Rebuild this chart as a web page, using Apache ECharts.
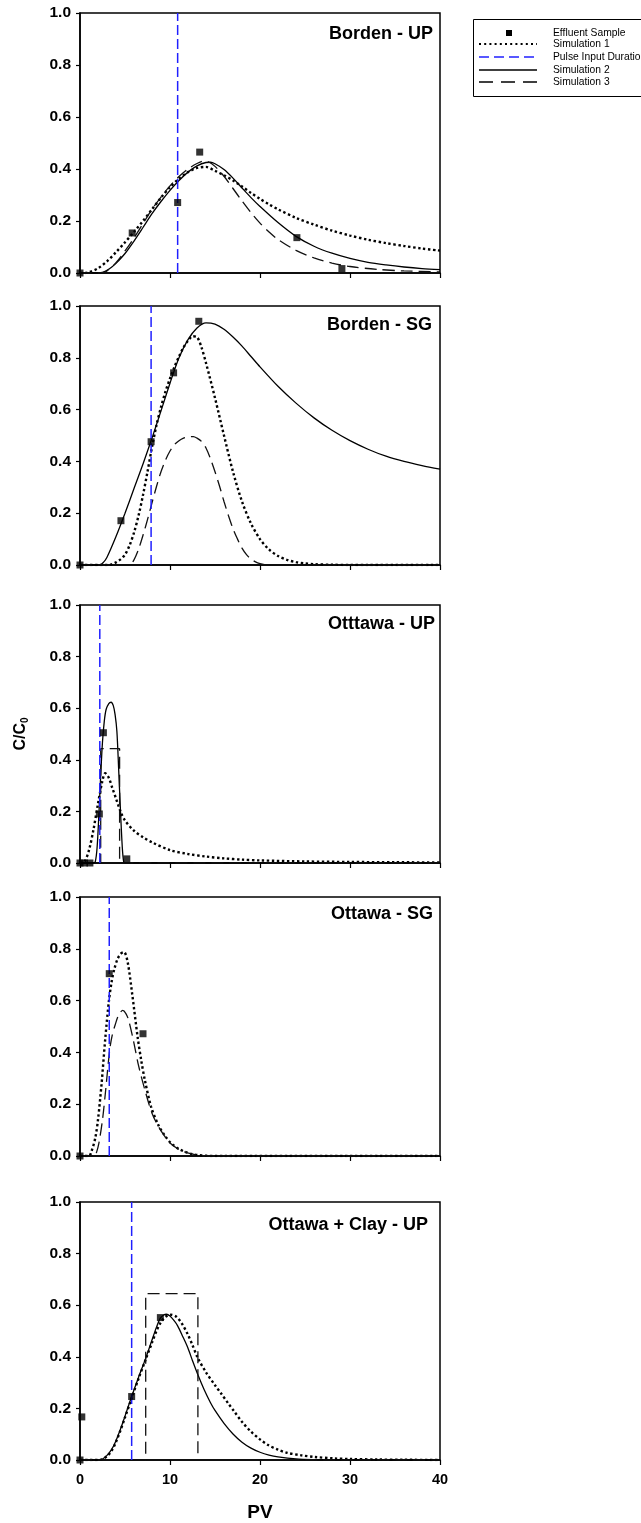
<!DOCTYPE html>
<html>
<head>
<meta charset="utf-8">
<script src="https://cdn.jsdelivr.net/npm/echarts@6/dist/echarts.min.js"></script>
<style>
  html, body { margin: 0; padding: 0; background: #fff; }
  #chart { width: 641px; height: 1523px; }
</style>
</head>
<body>
<div id="chart"></div>
<script>
// ---- Data: C/C0 versus pore volumes (PV) ----
const panelTitles = ['Borden - UP', 'Borden - SG', 'Otttawa - UP', 'Ottawa - SG', 'Ottawa + Clay - UP'];
const pulseDuration = [10.85, 7.9, 2.2, 3.25, 5.74];

// Borden - UP
const bordenUpSamples = [[0, 0], [5.8, 0.154], [10.85, 0.271], [13.3, 0.465], [24.1, 0.136], [29.1, 0.017]];
const bordenUpSim1 = [[0, 0], [0.5, 0], [1, 0.003], [2, 0.018], [3, 0.045], [4, 0.08], [5, 0.118], [6, 0.158], [7, 0.2], [8, 0.245], [9, 0.29], [10, 0.33], [11, 0.363], [12, 0.388], [13, 0.404], [14, 0.408], [15, 0.393], [16, 0.376], [17, 0.356], [18, 0.333], [19, 0.308], [20, 0.285], [21, 0.264], [22, 0.245], [24, 0.212], [26, 0.186], [28, 0.163], [30, 0.144], [32, 0.128], [34, 0.115], [36, 0.104], [38, 0.094], [40, 0.086]];
const bordenUpSim2 = [[0, 0], [1, 0], [2, 0], [2.5, 0.002], [3, 0.01], [3.5, 0.022], [4, 0.037], [5, 0.075], [6, 0.123], [7, 0.175], [8, 0.228], [9, 0.275], [10, 0.318], [11, 0.356], [12, 0.388], [13, 0.412], [14, 0.425], [14.5, 0.426], [15, 0.42], [16, 0.398], [17, 0.365], [18, 0.327], [19, 0.29], [20, 0.256], [22, 0.194], [24, 0.141], [26, 0.103], [28, 0.076], [30, 0.056], [32, 0.041], [34, 0.031], [36, 0.023], [38, 0.017], [40, 0.013]];
const bordenUpSim3 = [[0, 0], [1, 0], [2, 0], [2.5, 0.001], [3, 0.008], [4, 0.04], [5, 0.085], [6, 0.135], [7, 0.19], [8, 0.245], [9, 0.292], [10, 0.335], [11, 0.371], [12, 0.4], [13, 0.421], [13.7, 0.43], [14.3, 0.427], [15, 0.41], [16, 0.372], [17, 0.325], [18, 0.277], [19, 0.232], [20, 0.192], [21, 0.158], [22, 0.129], [24, 0.087], [26, 0.058], [28, 0.038], [30, 0.025], [33, 0.014], [36, 0.008], [40, 0.004]];

// Borden - SG
const bordenSgSamples = [[0, 0], [4.55, 0.171], [7.9, 0.476], [10.4, 0.742], [13.2, 0.941]];
const bordenSgSim1 = [[0, 0], [2, 0], [3, 0], [3.5, 0.002], [4, 0.01], [4.5, 0.022], [5, 0.04], [5.5, 0.075], [6, 0.125], [6.5, 0.19], [7, 0.27], [7.5, 0.36], [8, 0.455], [8.5, 0.54], [9, 0.61], [9.5, 0.67], [10, 0.72], [10.5, 0.765], [11, 0.805], [11.5, 0.84], [12, 0.866], [12.5, 0.883], [13, 0.88], [13.5, 0.84], [14, 0.78], [15, 0.645], [16, 0.5], [17, 0.36], [18, 0.245], [19, 0.16], [20, 0.1], [21, 0.06], [22, 0.035], [23, 0.02], [24, 0.011], [25, 0.006], [26, 0.003], [28, 0.001], [30, 0], [32, 0], [40, 0]];
const bordenSgSim2 = [[0, 0], [1, 0], [2.2, 0], [2.6, 0.01], [3, 0.03], [4, 0.11], [5, 0.2], [6, 0.295], [7, 0.39], [8, 0.49], [9, 0.595], [10, 0.702], [11, 0.8], [12, 0.87], [13, 0.915], [14, 0.935], [15, 0.93], [16, 0.91], [17, 0.88], [18, 0.845], [19, 0.805], [20, 0.765], [22, 0.69], [24, 0.625], [26, 0.568], [28, 0.52], [30, 0.48], [32, 0.447], [34, 0.42], [36, 0.4], [38, 0.384], [40, 0.37]];
const bordenSgSim3 = [[0, 0], [4.5, 0], [5.5, 0], [6, 0.02], [6.5, 0.06], [7, 0.115], [7.5, 0.175], [8, 0.24], [8.5, 0.303], [9, 0.36], [9.5, 0.405], [10, 0.44], [10.5, 0.465], [11, 0.48], [11.5, 0.49], [12, 0.495], [12.6, 0.496], [13, 0.49], [13.5, 0.477], [14, 0.452], [14.5, 0.41], [15, 0.36], [15.5, 0.305], [16, 0.245], [16.5, 0.19], [17, 0.14], [17.5, 0.1], [18, 0.065], [18.5, 0.04], [19, 0.023], [19.5, 0.012], [20, 0.005], [20.5, 0.001], [21, 0], [22, 0], [40, 0]];

// Ottawa - UP
const ottawaUpSamples = [[0, 0], [0.5, 0], [1.1, 0], [2.15, 0.19], [2.6, 0.505], [5.2, 0.016]];
const ottawaUpSim1 = [[0, 0], [0.5, 0.005], [1, 0.05], [1.5, 0.13], [2, 0.23], [2.5, 0.32], [2.8, 0.348], [3.2, 0.33], [3.6, 0.29], [4, 0.25], [4.5, 0.2], [5, 0.165], [6, 0.125], [7, 0.1], [8, 0.08], [10, 0.05], [12, 0.035], [14, 0.025], [16, 0.018], [18, 0.013], [20, 0.01], [25, 0.006], [30, 0.004], [35, 0.003], [40, 0.002]];
const ottawaUpSim2 = [[0, 0], [1.5, 0], [1.7, 0.005], [1.9, 0.06], [2.1, 0.19], [2.3, 0.34], [2.5, 0.47], [2.7, 0.55], [2.9, 0.595], [3.2, 0.618], [3.45, 0.623], [3.7, 0.61], [3.9, 0.575], [4.1, 0.51], [4.3, 0.36], [4.5, 0.2], [4.7, 0.06], [4.85, 0.005], [5, 0], [6, 0], [40, 0]];
const ottawaUpSim3 = [[0, 0], [2.3, 0], [2.3, 0.443], [4.4, 0.443], [4.4, 0], [40, 0]];

// Ottawa - SG
const ottawaSgSamples = [[0, 0], [3.25, 0.704], [7.0, 0.472]];
const ottawaSgSim1 = [[0, 0], [0.5, 0], [1, 0], [1.3, 0.02], [1.7, 0.07], [2, 0.14], [2.4, 0.28], [2.8, 0.45], [3.2, 0.595], [3.5, 0.67], [3.8, 0.72], [4.2, 0.763], [4.6, 0.783], [4.9, 0.787], [5.3, 0.748], [5.8, 0.625], [6.4, 0.46], [6.8, 0.37], [7.2, 0.294], [7.9, 0.19], [8.7, 0.12], [9.4, 0.08], [10.1, 0.05], [11, 0.027], [11.6, 0.017], [12.4, 0.008], [13.1, 0.004], [14, 0.001], [15, 0], [16, 0], [40, 0]];
const ottawaSgSim3 = [[0, 0], [1, 0], [1.6, 0], [1.8, 0.01], [2.1, 0.05], [2.5, 0.14], [2.84, 0.25], [3.3, 0.41], [3.6, 0.47], [3.94, 0.51], [4.3, 0.545], [4.75, 0.562], [5.1, 0.55], [5.4, 0.525], [5.97, 0.44], [6.5, 0.35], [7.25, 0.25], [8, 0.165], [8.7, 0.115], [9.4, 0.077], [10.1, 0.047], [11, 0.025], [11.6, 0.016], [12.4, 0.008], [13.1, 0.003], [14, 0.001], [15, 0], [16, 0], [40, 0]];

// Ottawa + Clay - UP
const clayUpSamples = [[0, 0], [0.2, 0.167], [5.74, 0.246], [8.93, 0.552]];
const clayUpSim1 = [[0, 0], [1, 0], [2, 0], [2.5, 0.003], [3, 0.015], [3.5, 0.035], [4, 0.07], [4.5, 0.115], [5, 0.165], [5.74, 0.24], [6.5, 0.315], [7.3, 0.39], [8, 0.455], [8.5, 0.5], [9, 0.535], [9.5, 0.555], [10.1, 0.563], [10.7, 0.555], [11.3, 0.53], [12, 0.485], [12.5, 0.445], [13.1, 0.395], [14, 0.34], [15, 0.29], [15.7, 0.257], [16.5, 0.218], [17.1, 0.19], [18, 0.148], [19, 0.11], [20, 0.08], [20.9, 0.058], [22, 0.04], [23, 0.028], [24.6, 0.018], [26, 0.012], [28.3, 0.006], [30, 0.004], [33, 0.002], [36, 0.001], [40, 0]];
const clayUpSim2 = [[0, 0], [1, 0], [2, 0], [2.5, 0.004], [3, 0.018], [3.5, 0.04], [4, 0.075], [4.5, 0.12], [5, 0.17], [5.74, 0.246], [6.5, 0.32], [7.3, 0.394], [8, 0.465], [8.5, 0.515], [8.93, 0.55], [9.3, 0.562], [9.6, 0.565], [10, 0.558], [10.5, 0.538], [10.85, 0.52], [11.4, 0.48], [11.97, 0.436], [12.5, 0.385], [13.1, 0.33], [13.8, 0.272], [14.5, 0.222], [15, 0.192], [16, 0.142], [17, 0.101], [18, 0.069], [19, 0.046], [20, 0.03], [21, 0.019], [22, 0.012], [24, 0.004], [26, 0.001], [28, 0], [30, 0], [40, 0]];
const clayUpSim3 = [[0, 0], [7.3, 0], [7.3, 0.645], [13.1, 0.645], [13.1, 0], [40, 0]];

const panels = [
  { samples: bordenUpSamples, sim1: bordenUpSim1, sim2: bordenUpSim2, sim3: bordenUpSim3 },
  { samples: bordenSgSamples, sim1: bordenSgSim1, sim2: bordenSgSim2, sim3: bordenSgSim3 },
  { samples: ottawaUpSamples, sim1: ottawaUpSim1, sim2: ottawaUpSim2, sim3: ottawaUpSim3 },
  { samples: ottawaSgSamples, sim1: ottawaSgSim1, sim2: null, sim3: ottawaSgSim3 },
  { samples: clayUpSamples, sim1: clayUpSim1, sim2: clayUpSim2, sim3: clayUpSim3 }
];
// pulse-shaped Simulation 3 curves are drawn with straight segments
const squareSim3 = [false, false, true, false, true];

// ---- Layout ----
const gridTops = [13, 306, 605, 897, 1202];
const gridHeights = [260, 259, 258, 259, 260];
const titleRights = [208, 209, 206, 208, 213];
const titleTops = [25, 316, 615, 905, 1216];
const FONT = '"Liberation Sans", Arial, sans-serif';
const BLUE = '#2020ff';
const SMOOTH = 0.3;

const grids = [], xAxes = [], yAxes = [], titles = [], series = [];

panels.forEach((p, i) => {
  grids.push({
    left: 80, width: 360, top: gridTops[i], height: gridHeights[i],
    show: true, borderColor: '#000', borderWidth: 1.5, backgroundColor: 'transparent'
  });
  const last = i === panels.length - 1;
  xAxes.push({
    type: 'value', gridIndex: i, min: 0, max: 40, interval: 10,
    axisLine: { show: true, onZero: false, lineStyle: { color: '#000', width: 1.5 } },
    axisTick: { show: true, inside: false, length: 5, lineStyle: { color: '#000', width: 1.2 } },
    splitLine: { show: false },
    axisLabel: { show: last, color: '#000', fontFamily: FONT, fontWeight: 'bold', fontSize: 14.5, margin: 12 },
    name: last ? 'PV' : '',
    nameLocation: 'middle', nameGap: 43,
    nameTextStyle: { color: '#000', fontFamily: FONT, fontWeight: 'bold', fontSize: 19 }
  });
  yAxes.push({
    type: 'value', gridIndex: i, min: 0, max: 1, interval: 0.2,
    axisLine: { show: true, onZero: false, lineStyle: { color: '#000', width: 1.5 } },
    axisTick: { show: true, inside: false, length: 4, lineStyle: { color: '#000', width: 1.2 } },
    splitLine: { show: false },
    axisLabel: { color: '#000', fontFamily: FONT, fontWeight: 'bold', fontSize: 15.5, margin: 9,
      formatter: v => v.toFixed(1) },
    name: i === 2 ? '{m|C/C}{s|0}' : '',
    nameLocation: 'middle', nameGap: 50, nameRotate: 90,
    nameTextStyle: {
      color: '#000', fontFamily: FONT, fontWeight: 'bold',
      rich: {
        m: { fontSize: 16, fontWeight: 'bold', fontFamily: FONT, color: '#000', lineHeight: 19 },
        s: { fontSize: 10, fontWeight: 'bold', fontFamily: FONT, color: '#000', lineHeight: 10, verticalAlign: 'bottom' }
      }
    }
  });
  titles.push({
    text: panelTitles[i], right: titleRights[i], top: titleTops[i], padding: 0,
    textStyle: { color: '#000', fontFamily: FONT, fontWeight: 'bold', fontSize: 18 }
  });

  const common = { xAxisIndex: i, yAxisIndex: i, symbol: 'none', showSymbol: false, animation: false, silent: true, z: 3 };
  if (p.sim1) series.push(Object.assign({}, common, {
    type: 'line', name: 'Simulation 1', data: p.sim1, smooth: SMOOTH,
    lineStyle: { color: '#000', width: 2.4, type: [2.4, 2.6], cap: 'butt' }
  }));
  if (p.sim2) series.push(Object.assign({}, common, {
    type: 'line', name: 'Simulation 2', data: p.sim2, smooth: SMOOTH,
    lineStyle: { color: '#000', width: 1.3, type: 'solid' }
  }));
  if (p.sim3) series.push(Object.assign({}, common, {
    type: 'line', name: 'Simulation 3', data: p.sim3, smooth: squareSim3[i] ? false : SMOOTH,
    lineStyle: { color: '#111', width: 1.3, type: [12, 6] }
  }));
  series.push(Object.assign({}, common, {
    type: 'line', name: 'Pulse Input Duration', z: 4,
    data: [[pulseDuration[i], 0], [pulseDuration[i], 1]],
    lineStyle: { color: BLUE, width: 1.5, type: [10, 4] }
  }));
  series.push({
    type: 'scatter', name: 'Effluent Sample', xAxisIndex: i, yAxisIndex: i,
    data: p.samples, symbol: 'rect', symbolSize: 7, z: 6, animation: false, silent: true,
    itemStyle: { color: '#000' }
  });
});

// ---- Legend box ----
const legendRows = [
  { label: 'Effluent Sample', kind: 'marker' },
  { label: 'Simulation 1', kind: 'line', stroke: '#000', width: 2, dash: [2, 3.2] },
  { label: 'Pulse Input Duration', kind: 'line', stroke: BLUE, width: 1.5, dash: [10, 5] },
  { label: 'Simulation 2', kind: 'line', stroke: '#000', width: 1.3, dash: null },
  { label: 'Simulation 3', kind: 'line', stroke: '#000', width: 1.3, dash: [14, 8] }
];
const legendRowY = [33, 44, 57, 70, 82];
const legendChildren = [{
  type: 'rect', shape: { x: 473.5, y: 19.5, width: 200, height: 77 },
  style: { fill: '#fff', stroke: '#000', lineWidth: 1 }
}];
legendRows.forEach((r, k) => {
  const y = legendRowY[k];
  if (r.kind === 'marker') {
    legendChildren.push({ type: 'rect', shape: { x: 506, y: y - 3, width: 6, height: 6 }, style: { fill: '#000' } });
  } else {
    legendChildren.push({
      type: 'line', shape: { x1: 479, y1: y, x2: 537, y2: y },
      style: { stroke: r.stroke, lineWidth: r.width, lineDash: r.dash, lineCap: 'butt' }
    });
  }
  legendChildren.push({
    type: 'text', x: 553, y: y,
    style: { text: r.label, fill: '#000', font: '10.3px ' + FONT, verticalAlign: 'middle' }
  });
});

const chart = echarts.init(document.getElementById('chart'), null, { renderer: 'canvas' });
chart.setOption({
  backgroundColor: '#fff',
  animation: false,
  title: titles,
  grid: grids,
  xAxis: xAxes,
  yAxis: yAxes,
  series: series,
  graphic: [{ type: 'group', children: legendChildren }]
});
</script>
</body>
</html>
